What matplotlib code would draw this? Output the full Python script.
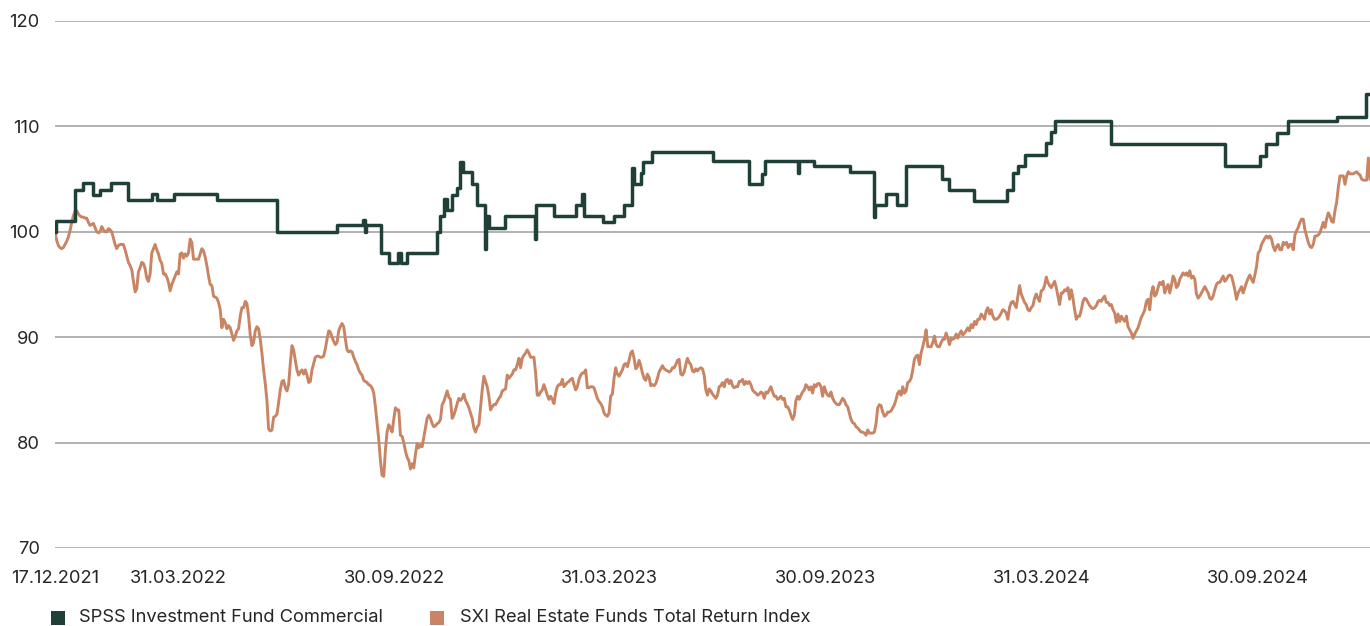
import matplotlib
matplotlib.use("Agg")
import matplotlib.pyplot as plt
from matplotlib.patches import Rectangle
import pandas as pd

# ---------------- data ----------------
start_date = "2021-12-17"
end_date = "2025-01-03"

series_names = ["SPSS Investment Fund Commercial",
                "SXI Real Estate Funds Total Return Index"]
series_colors = ["#1f4038", "#c98463"]

spss_dates = [
    "2021-12-17", "2021-12-18", "2022-01-03", "2022-01-10", "2022-01-18", "2022-01-24",
    "2022-02-02", "2022-02-17", "2022-03-09", "2022-03-13", "2022-03-28", "2022-05-03",
    "2022-06-23", "2022-08-13", "2022-09-04", "2022-09-05", "2022-09-06", "2022-09-19",
    "2022-09-26", "2022-10-03", "2022-10-06", "2022-10-11", "2022-11-05", "2022-11-08",
    "2022-11-11", "2022-11-14", "2022-11-18", "2022-11-22", "2022-11-25", "2022-11-27",
    "2022-12-05", "2022-12-09", "2022-12-16", "2022-12-17", "2022-12-19", "2023-01-02",
    "2023-01-27", "2023-01-28", "2023-02-12", "2023-03-03", "2023-03-08", "2023-03-10",
    "2023-03-26", "2023-04-04", "2023-04-13", "2023-04-19", "2023-04-21", "2023-04-27",
    "2023-04-29", "2023-05-06", "2023-06-27", "2023-07-27", "2023-08-07", "2023-08-10",
    "2023-09-07", "2023-09-08", "2023-09-20", "2023-10-21", "2023-11-10", "2023-11-11",
    "2023-11-20", "2023-11-30", "2023-12-07", "2024-01-07", "2024-01-13", "2024-02-03",
    "2024-03-02", "2024-03-07", "2024-03-11", "2024-03-17", "2024-04-04", "2024-04-08",
    "2024-04-11", "2024-05-29", "2024-09-02", "2024-10-02", "2024-10-07", "2024-10-16",
    "2024-10-26", "2024-12-06", "2024-12-31", "2025-01-03",
]
spss_values = [
    100.0, 101.0, 104.0, 104.6, 103.5, 104.0, 104.6, 103.0, 103.6, 103.0, 103.6, 103.0,
    100.0, 100.6, 101.1, 100.0, 100.6, 98.0, 97.0, 98.0, 97.0, 98.0, 100.0, 101.5,
    103.1, 102.1, 103.5, 104.2, 106.6, 105.7, 104.5, 102.5, 98.4, 101.5, 100.4, 101.5,
    99.3, 102.5, 101.5, 102.5, 103.6, 101.5, 100.9, 101.5, 102.5, 106.1, 104.5, 105.6,
    106.6, 107.6, 106.7, 104.5, 105.5, 106.7, 105.6, 106.7, 106.2, 105.7, 101.4, 102.5,
    103.6, 102.5, 106.2, 105.0, 104.0, 102.9, 104.0, 105.6, 106.2, 107.3, 108.4, 109.5,
    110.5, 108.3, 106.2, 107.2, 108.3, 109.4, 110.5, 110.9, 113.1, 113.1,
]

# SXI index, evenly spaced observations from start_date to end_date
sxi_values = [
    100.0, 99.2, 98.7, 98.5, 98.4, 98.5, 98.8, 99.1, 99.5, 100.1,
    100.9, 101.5, 101.9, 102.0, 101.7, 101.5, 101.4, 101.4, 101.3, 101.3,
    100.9, 100.6, 100.7, 100.8, 100.4, 100.0, 99.9, 100.0, 100.5, 100.2,
    100.0, 100.0, 100.3, 100.2, 100.0, 99.4, 98.8, 98.4, 98.7, 98.8,
    98.8, 98.8, 98.3, 97.7, 97.1, 96.8, 96.4, 95.3, 94.3, 94.6,
    96.2, 96.6, 97.1, 97.0, 96.5, 95.6, 95.3, 96.0, 98.0, 98.4,
    98.8, 98.3, 97.9, 97.3, 97.0, 96.0, 96.0, 95.7, 95.2, 94.4,
    95.0, 95.4, 95.8, 96.2, 96.0, 97.9, 98.0, 97.5, 97.9, 97.7,
    98.0, 99.3, 99.0, 97.4, 97.4, 97.4, 97.4, 97.9, 98.4, 98.2,
    97.6, 96.8, 95.8, 95.0, 94.9, 93.9, 93.8, 93.7, 93.3, 92.6,
    90.9, 91.7, 91.4, 90.8, 91.1, 90.9, 90.3, 89.7, 90.1, 90.6,
    90.8, 92.0, 92.8, 92.8, 93.4, 93.2, 92.0, 90.2, 89.2, 89.5,
    90.6, 91.0, 90.8, 89.8, 88.5, 86.9, 85.6, 84.0, 81.3, 81.1,
    81.2, 82.4, 82.5, 82.7, 83.8, 85.0, 85.8, 85.9, 85.2, 84.9,
    85.5, 87.5, 89.2, 88.8, 87.8, 86.9, 86.4, 86.7, 86.9, 86.5,
    86.9, 86.4, 85.7, 85.8, 86.9, 87.5, 88.1, 88.2, 88.2, 88.1,
    88.1, 88.2, 88.9, 89.8, 90.6, 90.5, 90.0, 89.6, 89.3, 89.5,
    90.6,
    91.0, 91.3, 91.0, 89.8, 88.8, 88.6, 88.7, 88.6, 88.1, 87.7,
    87.4, 86.9, 86.6, 86.4, 85.9, 85.8, 85.7, 85.5, 85.4, 85.2,
    84.7, 83.4, 81.8, 80.3, 78.3, 76.9, 76.8, 79.3, 81.0, 81.7,
    81.4, 81.0, 82.2, 83.3, 83.1, 83.1, 80.7, 80.6, 80.0, 79.2,
    78.6, 78.3, 77.5, 78.0, 77.6, 78.9, 79.9, 79.5, 79.8, 79.6,
    80.5, 81.4, 82.3, 82.6, 82.3, 81.8, 81.5, 81.6, 81.8, 81.9,
    82.2, 83.6, 83.9, 84.4, 84.9, 84.3, 84.1, 82.3, 82.6, 83.1,
    83.7, 84.2, 84.0, 84.2, 84.6, 84.0, 83.7, 83.3, 82.8, 82.3,
    81.4, 81.0, 81.5, 81.7, 83.4, 85.0, 86.3, 85.8, 85.3, 84.4,
    83.1, 83.4, 83.6, 83.6, 83.9, 84.2, 84.4, 84.9, 85.0, 85.1,
    86.4, 86.1, 86.3, 86.5, 86.9, 86.9, 87.4, 88.0, 87.1, 88.0,
    88.3, 88.5, 88.8, 88.5, 88.1, 88.1, 88.1, 86.6, 84.5, 84.5,
    84.8, 85.0, 85.5, 85.0, 84.5, 84.1, 84.4, 84.1, 83.7, 84.7,
    85.3, 85.5, 85.5, 86.0, 85.3, 85.5, 85.7, 85.8, 86.0, 86.1,
    85.5, 85.0, 85.3, 86.0, 86.4, 86.6, 86.6, 86.9, 85.2, 85.2,
    85.3, 85.3, 85.2, 84.7, 84.2, 83.9, 83.7, 83.4, 82.8, 82.6,
    82.5, 82.8, 84.4, 84.6, 86.1, 87.1, 86.5, 86.3, 86.6,
    86.9, 87.4, 87.5, 87.2, 87.8, 88.5, 88.7, 88.0, 87.0, 87.2,
    87.8, 87.3, 86.6, 86.1, 85.9, 86.5, 86.2, 85.4, 85.5, 85.4,
    85.6, 86.1, 86.7, 87.0, 87.3, 87.0, 86.9, 86.8, 86.7, 86.8,
    87.1, 87.1, 87.4, 87.8, 87.9, 86.5, 86.4, 86.7, 87.4, 88.0,
    87.6, 87.4, 86.8, 86.7, 87.0, 86.8, 87.0, 87.1, 87.0, 86.4,
    85.0, 84.5, 85.1, 84.9, 84.6, 84.4, 84.2, 84.5, 85.3, 85.4,
    85.7, 85.3, 85.9, 86.0, 85.6, 85.9, 85.4, 85.2, 85.3, 85.3,
    85.8, 85.8, 86.0, 85.5, 85.8, 85.6, 85.8, 85.5, 85.0, 84.8,
    84.7, 84.5, 84.6, 84.8, 84.7, 84.2, 84.8, 84.7, 85.0, 85.3,
    84.8, 84.4, 84.4, 84.1, 84.2, 84.4, 84.1, 84.2, 83.4, 83.4,
    83.1, 82.6, 82.2, 82.6, 84.0, 84.4, 84.1, 84.5, 84.8, 85.0,
    85.5, 85.3, 85.0, 85.3, 84.7, 85.5, 85.3, 85.6, 85.6, 85.3,
    84.4, 85.3, 84.8, 84.5, 84.4, 84.8, 84.2, 83.9, 83.7, 83.6,
    83.6, 83.9, 84.2, 84.0, 83.6, 83.4, 82.8, 82.2, 81.9, 81.8,
    81.5, 81.4, 81.2, 81.0, 81.0, 80.9, 80.7, 81.2, 80.9, 80.9,
    80.9, 81.0, 81.8, 83.3, 83.6, 83.5, 82.9, 82.5, 82.6, 82.9,
    82.9,
    83.0, 83.3, 83.6, 84.1, 84.7, 84.9, 84.5, 85.3, 84.7, 84.9,
    85.7, 85.8, 86.1, 86.9, 87.9, 88.2, 88.3, 87.4, 88.5, 89.1,
    89.8, 90.7, 89.1, 89.1, 89.1, 89.5, 90.1, 89.3, 89.1, 89.1,
    89.5, 89.8, 89.8, 90.4, 89.9, 89.3, 89.9, 89.8, 89.9, 90.3,
    89.9, 90.3, 90.6, 90.2, 90.4, 90.6, 90.9, 90.6, 91.2, 90.9,
    91.5, 91.2, 91.7, 91.7, 92.2, 92.0, 91.7, 92.5, 92.8, 92.2,
    92.6, 92.0, 91.7, 91.7, 91.8, 92.0, 92.3, 92.6, 92.5, 92.3,
    91.7, 92.8, 93.3, 93.4, 93.1, 92.8, 93.9, 94.9, 94.1, 93.7,
    93.3, 93.1, 92.6, 92.5, 92.8, 93.0, 93.7, 94.1, 93.7, 93.4,
    94.4, 94.5, 94.9, 95.7, 95.2, 94.9, 94.7, 95.0, 95.3, 94.7,
    93.9, 93.1, 94.2, 94.2, 94.5, 94.4, 94.7, 93.6, 94.5, 93.7,
    92.6, 91.7, 92.0, 92.0, 92.6, 93.4, 93.7, 93.6, 93.3, 93.0,
    92.8, 92.7, 92.8, 93.0, 93.4, 93.5, 93.4, 93.7, 93.9, 93.3,
    93.3, 93.0, 93.1, 92.6, 92.3, 91.4, 92.2, 91.5, 92.0, 91.7,
    91.5, 92.0, 91.0, 90.7, 90.4, 89.9, 90.3, 90.6, 90.9, 91.4,
    91.9, 92.2, 92.6, 93.4, 93.6, 92.6, 94.2,
    94.8, 93.9, 94.1, 94.7, 95.2, 95.0, 95.3, 94.2, 94.7, 95.0,
    94.2, 94.9, 95.8, 95.5, 94.7, 94.9, 95.5, 95.8, 96.1, 95.9,
    96.1, 95.8, 96.3, 95.6, 95.8, 95.5, 94.1, 93.7, 93.9, 94.2,
    94.5, 94.8, 94.5, 94.2, 93.7, 93.6, 93.9, 94.5, 95.0, 95.2,
    95.2, 95.5, 95.8, 95.3, 95.5, 95.8, 95.9, 95.8, 95.2, 94.5,
    93.6, 94.2, 94.5, 94.8, 94.2, 94.7, 95.2, 95.6, 95.9, 95.5,
    95.2, 95.9, 96.7, 98.0, 98.2, 98.8, 99.1, 99.4, 99.6, 99.4,
    99.6, 99.3, 98.6, 98.2, 98.6, 98.8, 98.3, 98.3, 99.0, 98.8,
    99.0, 98.5, 98.8, 98.8, 98.3, 99.7, 100.1, 100.4, 100.9, 101.2,
    101.2, 100.2, 99.6, 99.0, 98.6, 98.5, 98.8, 99.6, 99.6, 99.7,
    99.9, 100.4, 100.9, 100.4, 101.2, 101.8, 101.5, 101.0, 100.9, 102.0,
    102.8, 104.2, 105.3, 105.3, 105.3, 104.5, 105.3, 105.7, 105.5, 105.5,
    105.5, 105.6, 105.7, 105.5, 105.4, 105.0, 104.9, 104.9, 104.9, 107.0,
    105.0,
]

tick_dates = ["2021-12-17", "2022-03-31", "2022-09-30", "2023-03-31",
              "2023-09-30", "2024-03-31", "2024-09-30"]
tick_labels = ["17.12.2021", "31.03.2022", "30.09.2022", "31.03.2023",
               "30.09.2023", "31.03.2024", "30.09.2024"]
y_ticks = [70, 80, 90, 100, 110, 120]

# ---------------- figure ----------------
W, H = 1370, 626
plt.rcParams["font.family"] = ["Inter", "DejaVu Sans"]
text_color = "#262626"
grid_color = "#9c9c9c"
fs = 13.2

fig = plt.figure(figsize=(W / 100, H / 100), dpi=100)
fig.patch.set_facecolor("white")
ax = fig.add_axes([55 / W, 1 - 548 / H, 1 - 55 / W, (548 - 21) / H])

sxi_dates = pd.date_range(start_date, end_date, periods=len(sxi_values))
ax.plot(sxi_dates, sxi_values, color=series_colors[1], lw=2.1,
        solid_joinstyle="round", zorder=3)
ax.plot(pd.to_datetime(spss_dates), spss_values, color=series_colors[0], lw=2.5,
        drawstyle="steps-post", zorder=4)

ax.set_xlim(pd.Timestamp(start_date), pd.Timestamp(end_date))
ax.set_ylim(min(y_ticks), max(y_ticks))
ax.set_yticks(y_ticks)
ax.set_yticklabels([str(v) for v in y_ticks])
ax.set_xticks(pd.to_datetime(tick_dates))
ax.set_xticklabels(tick_labels)

ax.grid(axis="y", color=grid_color, lw=1.1)
ax.grid(axis="x", visible=False)
ax.set_axisbelow(True)
for s in ax.spines.values():
    s.set_visible(False)
ax.tick_params(axis="y", length=0, pad=11, labelsize=fs, labelcolor=text_color)
ax.tick_params(axis="x", length=0, pad=15.5, labelsize=fs, labelcolor=text_color)

# legend (bottom)
leg_items = [(51, 79), (430, 460)]
for (sx, tx), name, col in zip(leg_items, series_names, series_colors):
    fig.add_artist(Rectangle((sx / W, 1 - 625 / H), 14 / W, 14 / H,
                             transform=fig.transFigure, facecolor=col,
                             edgecolor="none"))
    fig.text(tx / W, 1 - 618 / H, name, fontsize=fs, color=text_color,
             va="center", ha="left")

fig.savefig("out.png", dpi=100)
